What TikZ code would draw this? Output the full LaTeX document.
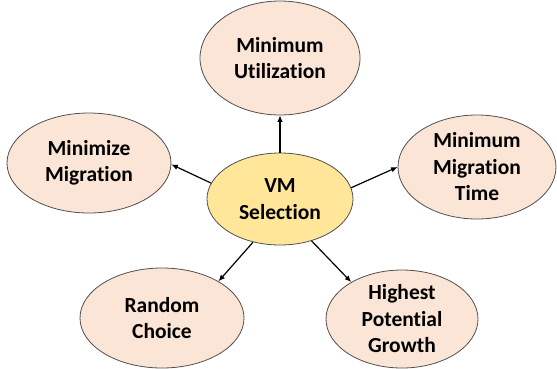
\documentclass[tikz,border=0pt]{standalone}
\usepackage{fontspec}
\setmainfont[Ligatures=NoCommon]{Carlito}
\usetikzlibrary{shapes.geometric,arrows.meta}

\definecolor{peach}{HTML}{FBE5D6}
\definecolor{vmyellow}{HTML}{FFE699}
\definecolor{rim}{HTML}{505050}

\begin{document}
\begin{tikzpicture}[x=1pt,y=-1pt]
        \tikzset{every node/.style={inner sep=-6pt, font=\fontsize{21.5}{26.5}\selectfont\bfseries, align=center},
                 choice/.style={ellipse, draw=rim, line width=0.8pt, fill=peach},
                 hub/.style={ellipse, draw=rim, line width=0.8pt, fill=vmyellow},
                 link/.style={-{Latex[length=6.5pt,width=5.5pt]}, line width=1.2pt, black}}
        \useasboundingbox (0,0) rectangle (557,368);
        \node [hub, minimum width=146pt, minimum height=92pt] (vm) at (280,199) {VM\\Selection};
        \node [choice, minimum width=160pt, minimum height=114pt] (minutil) at (280,58) {Minimum\\Utilization};
        \node [choice, minimum width=164pt, minimum height=100pt] (minmig) at (89,163) {Minimize\\Migration};
        \node [choice, minimum width=158pt, minimum height=104pt] (mmt) at (477,167) {Minimum\\Migration\\Time};
        \node [choice, minimum width=164pt, minimum height=100pt] (rand) at (162,318) {Random\\Choice};
        \node [choice, minimum width=152pt, minimum height=98pt] (hpg) at (402,319) {Highest\\Potential\\Growth};
        % arrows out of the hub
        \draw [link] (vm.90) -- (minutil.-90);
        \draw [link] (vm.167) -- (minmig.-1);
        \draw [link] (vm.9) -- (mmt.180);
        \draw [link] (vm.-122) -- (rand.33);
        \draw [link] (vm.-53) -- (hpg.144);
\end{tikzpicture}
\end{document}
